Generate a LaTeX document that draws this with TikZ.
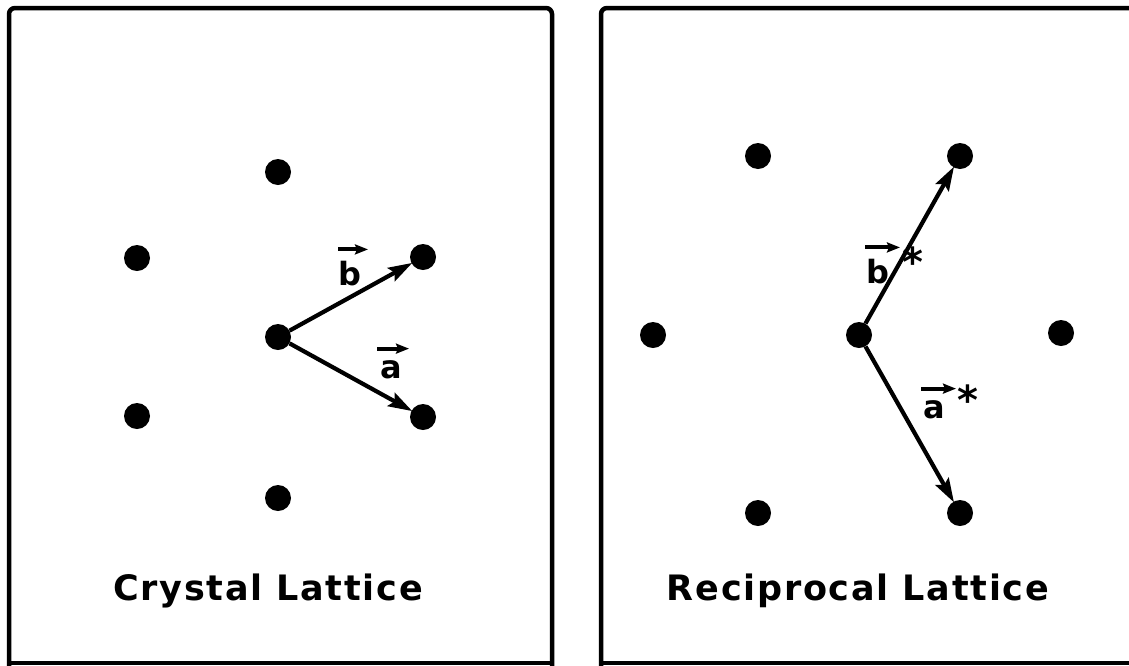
\documentclass[tikz,border=0pt]{standalone}
\usepackage{fontspec}
\setmainfont{DejaVu Sans}[LetterSpace=5]
\usetikzlibrary{arrows.meta}
\tikzset{
  dot/.style={circle,fill=black,inner sep=0pt,minimum size=26pt},
  vec/.style={line width=4.2pt,-{Stealth[length=24pt,width=15pt,inset=4pt]},shorten >=-1pt},
  ovec/.style={line width=4pt,-{Stealth[length=13pt,width=10pt,inset=2pt]}},
  frame/.style={line width=4.5pt,rounded corners=6pt},
  lbl/.style={inner sep=0pt,font=\fontsize{32}{32}\selectfont\bfseries},
  star/.style={inner sep=0pt,font=\fontsize{40}{40}\selectfont\bfseries},
  title/.style={inner sep=0pt,font=\fontsize{35}{35}\selectfont\bfseries}
}
\begin{document}
\begin{tikzpicture}[x=1pt,y=-1pt]
\useasboundingbox (0,0) rectangle (1129,665);
\fill[white] (0,0) rectangle (1129,665);
% frames
\draw[frame] (9,668) -- (9,8) -- (552,8) -- (552,668);
\draw[frame] (601,668) -- (601,8) -- (1140,8);
\draw[line width=4pt] (9,663) -- (552,663);
\draw[line width=4pt] (601,663) -- (1129,663);
% crystal lattice
\node[dot] (L0) at (278,337) {};
\node[dot] (L1) at (278,172) {};
\node[dot] (L2) at (137,258) {};
\node[dot] (L3) at (423,257) {};
\node[dot] (L4) at (137,416) {};
\node[dot] (L5) at (423,417) {};
\node[dot] (L6) at (278,498) {};
\draw[vec] (L0) -- (L3);
\draw[vec] (L0) -- (L5);
\node[lbl] (lb) at (350,274) {b};
\draw[ovec] ([xshift=-12pt,yshift=12pt]lb.north) -- ([xshift=18pt,yshift=12pt]lb.north);
\node[lbl] (la) at (391,370) {a};
\draw[ovec] ([xshift=-14pt,yshift=12pt]la.north) -- ([xshift=18pt,yshift=12pt]la.north);
\node[title,anchor=base] (t1) at (268,600) {Crystal Lattice};
% reciprocal lattice
\node[dot] (R0) at (859,335) {};
\node[dot] (R1) at (758,156) {};
\node[dot] (R2) at (960,156) {};
\node[dot] (R3) at (653,335) {};
\node[dot] (R4) at (1061,333) {};
\node[dot] (R5) at (758,513) {};
\node[dot] (R6) at (960,513) {};
\draw[vec] (R0) -- (R2);
\draw[vec] (R0) -- (R6);
\node[lbl] (rb) at (878,272) {b};
\node[star] (rbs) at (913,262) {*};
\draw[ovec] ([xshift=-13pt,yshift=12pt]rb.north) -- ([xshift=22pt,yshift=12pt]rb.north);
\node[lbl] (ra) at (934,410) {a};
\node[star] (ras) at (968,400) {*};
\draw[ovec] ([xshift=-13pt,yshift=12pt]ra.north) -- ([xshift=22pt,yshift=12pt]ra.north);
\node[title,anchor=base] (t2) at (858,600) {Reciprocal Lattice};
\end{tikzpicture}
\end{document}
